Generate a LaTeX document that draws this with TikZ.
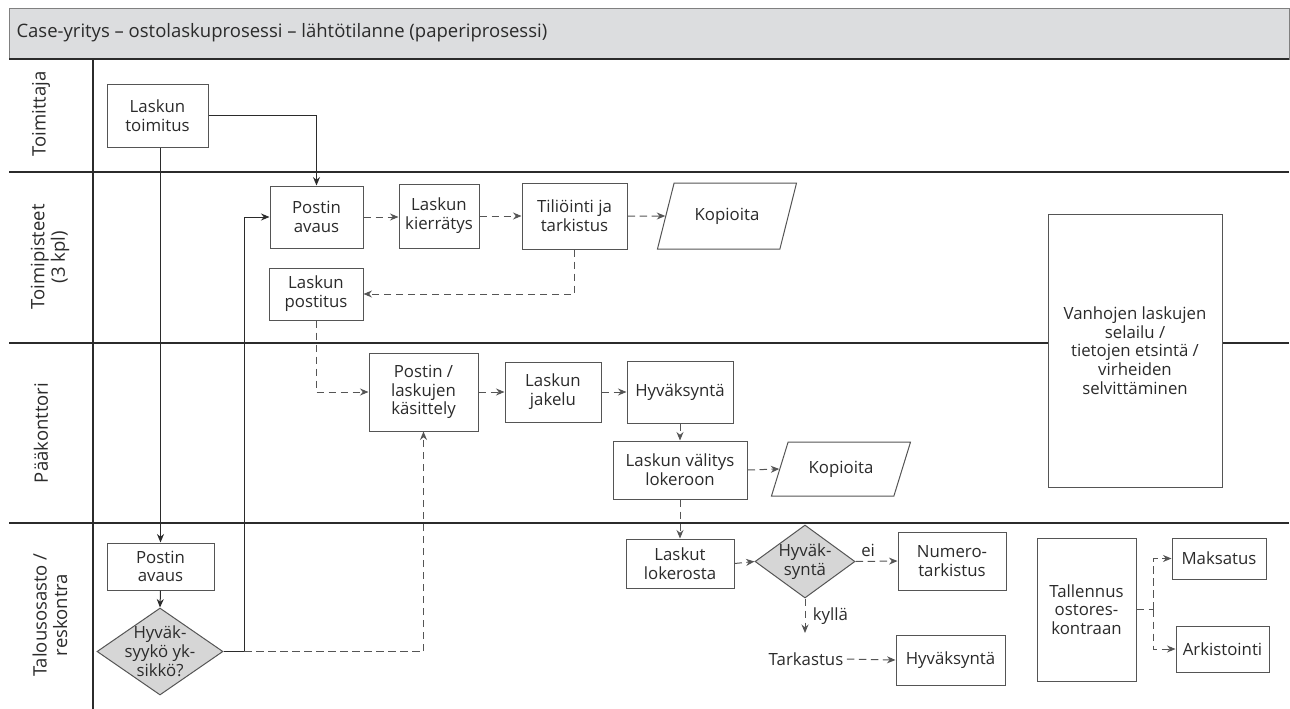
\documentclass[tikz,border=0pt]{standalone}
\usepackage{fontspec}
\setmainfont{Open Sans}
\usetikzlibrary{arrows.meta,shapes.geometric,calc}
\definecolor{ink}{HTML}{2B2B2B}
\definecolor{edge}{HTML}{555555}
\definecolor{headfill}{HTML}{DCDDDF}
\definecolor{decfill}{HTML}{D6D6D6}
\tikzset{
  txt/.style={font=\fontsize{16.8}{18.8}\selectfont, text=ink, align=center},
  box/.style={txt, draw=edge, line width=1pt, fill=white, inner sep=2pt},
  para/.style={txt, draw=edge, line width=1pt, fill=white, trapezium,
    trapezium left angle=64, trapezium right angle=116, trapezium stretches=true},
  dec/.style={draw=edge, line width=1pt, fill=decfill, diamond, inner sep=0pt},
  lane/.style={draw=ink, line width=1.8pt},
  flow/.style={draw=ink, line width=1pt, -{Stealth[length=8.5pt,width=7pt]}},
  plain/.style={draw=ink, line width=1pt},
  dflow/.style={draw=edge, line width=1pt, dash pattern=on 7.5pt off 4.5pt,
    -{Stealth[length=8.5pt,width=7pt]}},
  dplain/.style={draw=edge, line width=1pt, dash pattern=on 7.5pt off 4.5pt},
  lanelabel/.style={txt, rotate=90, font=\fontsize{18.5}{20.5}\selectfont}
}
\begin{document}
\begin{tikzpicture}[x=1pt,y=-1pt]
\useasboundingbox (0,0) rectangle (1290,709);

% title bar and swimlane grid
\draw[draw=gray, line width=0.8pt, fill=headfill] (9,8) rectangle (1289,59);
\node[txt, anchor=west, font=\fontsize{18.5}{20}\selectfont] (title) at (13,33)
  {Case-yritys – ostolaskuprosessi – lähtötilanne (paperiprosessi)};
\draw[lane] (9,59) -- (1289,59);
\draw[lane] (9,172) -- (1289,172);
\draw[lane] (9,343) -- (1289,343);
\draw[lane] (9,523) -- (1289,523);
\draw[lane] (93,59) -- (93,709);

% lane titles
\node[lanelabel] (l1) at (41,114) {Toimittaja};
\node[lanelabel] (l2) at (50,257) {Toimipisteet\\(3 kpl)};
\node[lanelabel] (l3) at (41,433) {Pääkonttori};
\node[lanelabel] (l4) at (50,615) {Talousosasto /\\reskontra};

% Toimittaja
\node[box, minimum width=101, minimum height=63] (lt) at (157.5,115.5) {Laskun\\toimitus};

% Toimipisteet
\node[box, minimum width=93, minimum height=62] (pa1) at (316.5,217) {Postin\\avaus};
\node[box, minimum width=80, minimum height=64] (kie) at (439,216) {Laskun\\kierrätys};
\node[box, minimum width=105, minimum height=66] (til) at (574.5,216) {Tiliöinti ja\\tarkistus};
\node[para, minimum width=140, minimum height=66] (kop1) at (727,216) {Kopioita};
\node[box, minimum width=94, minimum height=52] (lp) at (316,294) {Laskun\\postitus};

% Pääkonttori
\node[box, minimum width=109, minimum height=78] (plk) at (423.5,392) {Postin /\\laskujen\\käsittely};
\node[box, minimum width=96, minimum height=60] (jak) at (553,392) {Laskun\\jakelu};
\node[box, minimum width=106, minimum height=62] (hyv1) at (680,392) {Hyväksyntä};
\node[box, minimum width=134, minimum height=58] (val) at (680,470) {Laskun välitys\\lokeroon};
\node[para, minimum width=140, minimum height=54] (kop2) at (841,469) {Kopioita};

% box spanning two lanes
\node[box, minimum width=174, minimum height=273] (van) at (1135,350.5)
  {Vanhojen laskujen\\selailu /\\tietojen etsintä /\\virheiden\\selvittäminen};

% Talousosasto / reskontra
\node[box, minimum width=107, minimum height=47] (pa2) at (160.5,566.5) {Postin\\avaus};
\node[dec, minimum width=126, minimum height=87,
  label={[txt]center:Hyväk-\\syykö yk-\\sikkö?}] (hyd) at (160,651.5) {};
\node[box, minimum width=108, minimum height=49] (lok) at (680,563.5) {Laskut\\lokerosta};
\node[dec, minimum width=100, minimum height=73,
  label={[txt]center:Hyväk-\\syntä}] (hyd2) at (805,561.5) {};
\node[box, minimum width=108, minimum height=58] (num) at (952,561) {Numero-\\tarkistus};
\node[txt] (tar) at (806,659) {Tarkastus};
\node[box, minimum width=109, minimum height=50] (hyv2) at (950.5,660) {Hyväksyntä};
\node[box, minimum width=99, minimum height=143] (tal) at (1086.5,609.5) {Tallennus\\ostores-\\kontraan};
\node[box, minimum width=94, minimum height=41] (mak) at (1219,558.5) {Maksatus};
\node[box, minimum width=93, minimum height=46] (ark) at (1222.5,649) {Arkistointi};

% junction points
\coordinate (j1) at (244,651.5);
\coordinate (yes) at (805,633);
\coordinate (split) at (1153,609.5);

% solid paper flow
\draw[flow] (lt.east) -| (pa1.north);
\draw[flow] (pa2.north |- lt.south) -- (pa2.north);
\draw[flow] (pa2.south) -- (hyd.north);
\draw[plain] (hyd.east) -- (j1);
\draw[flow] (j1) |- (pa1.west);

% dashed flow
\draw[dflow] (j1) -| (plk.south);
\draw[dflow] (pa1.east) -- (pa1.east -| kie.west);
\draw[dflow] (kie.east) -- (kie.east -| til.west);
\draw[dflow] (til.east) -- (kop1.west);
\draw[dflow] (til.south) |- (lp.east);
\draw[dflow] (lp.south) |- (plk.west);
\draw[dflow] (plk.east) -- (jak.west);
\draw[dflow] (jak.east) -- (hyv1.west);
\draw[dflow] (hyv1.south) -- (val.north);
\draw[dflow] (val.east) -- (kop2.west);
\draw[dflow] (val.south) -- (lok.north);
\draw[dflow] (lok.east) -- (hyd2.west);
\draw[dflow] (hyd2.east) -- node[txt, above=1pt, pos=0.3] (ei) {ei} (num.west);
\draw[dflow] (hyd2.south) -- node[txt, right=4pt, pos=0.5] (kylla) {kyllä} (yes);
\draw[dflow] (tar.east) -- (hyv2.west);
\draw[dplain] (tal.east) -- (split);
\draw[dflow] (split) |- (mak.west);
\draw[dflow] (split) |- (ark.west);
\end{tikzpicture}
\end{document}
